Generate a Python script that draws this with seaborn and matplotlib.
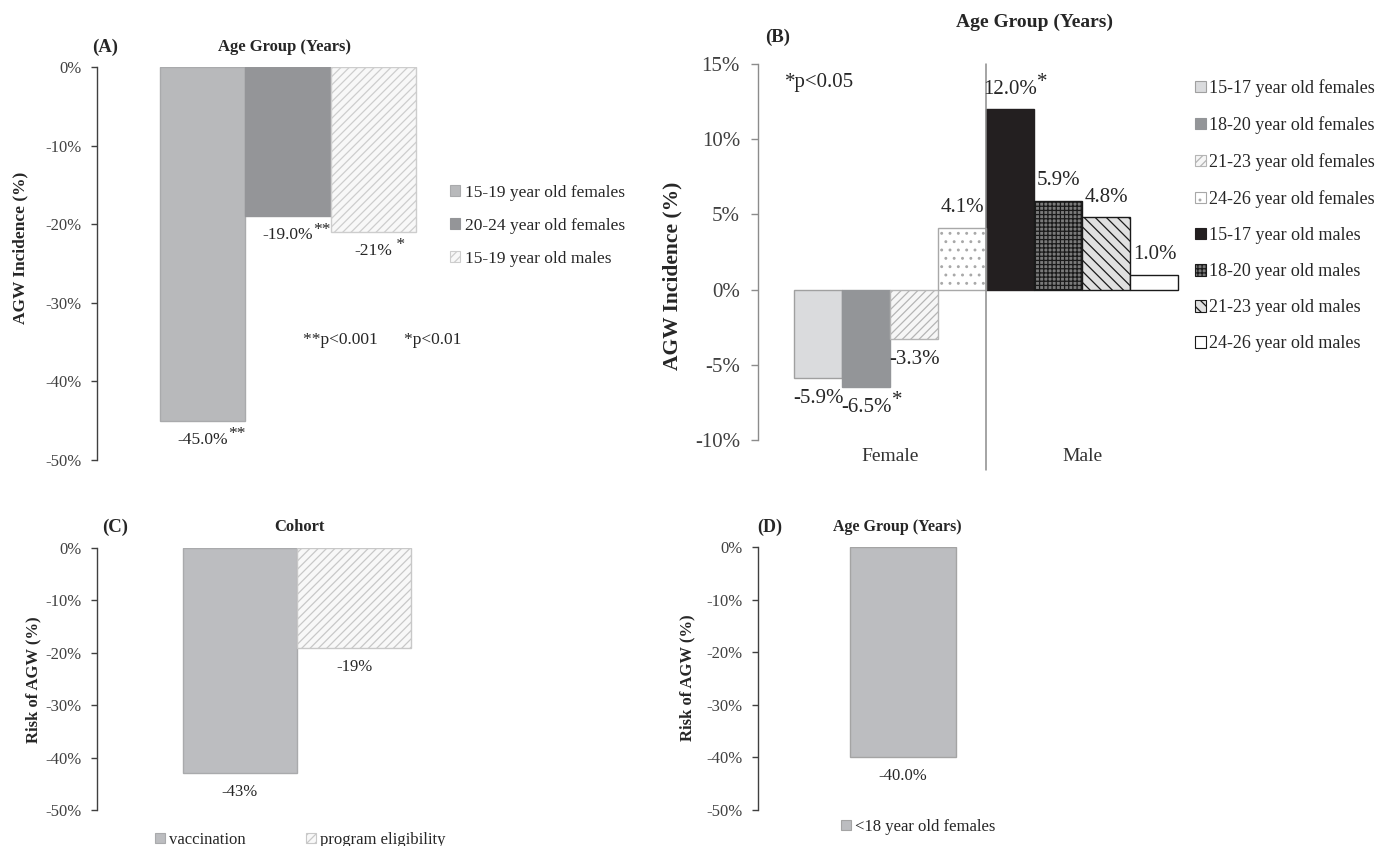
import pandas as pd
import numpy as np
import seaborn as sns
import matplotlib
matplotlib.use('Agg')
import matplotlib.pyplot as plt
from matplotlib.patches import Patch

# ---- data ----
# (A) AGW incidence change by age group
groups_a = ['15-19 year old females', '20-24 year old females', '15-19 year old males']
values_a = [-45.0, -19.0, -21.0]
labels_a = ['-45.0%', '-19.0%', '-21%']
stars_a = ['**', '**', ' *']

# (B) AGW incidence change, female / male
sex_b = ['Female'] * 4 + ['Male'] * 4
ages_b = ['15-17', '18-20', '21-23', '24-26'] * 2
values_b = [-5.9, -6.5, -3.3, 4.1, 12.0, 5.9, 4.8, 1.0]
stars_b = ['', '*', '', '', '*', '', '', '']
legend_b = ['15-17 year old females', '18-20 year old females', '21-23 year old females',
            '24-26 year old females', '15-17 year old males', '18-20 year old males',
            '21-23 year old males', '24-26 year old males']

# (C) risk of AGW by cohort
cohort_c = ['vaccination', 'program eligibility']
values_c = [-43.0, -19.0]

# (D) risk of AGW, <18 females
groups_d = ['<18 year old females']
values_d = [-40.0]

ticks_neg = [0, -10, -20, -30, -40, -50]
ticks_b = [15, 10, 5, 0, -5, -10]

# ---- styles ----
sty_a = [dict(fc='#b8b9bb', ec='#a9aaac', hatch=None),
         dict(fc='#949598', ec='#949598', hatch=None),
         dict(fc='#f8f8f8', ec='#cdcdcd', hatch='////')]
sty_b = [dict(fc='#dadbdd', ec='#a0a0a0', hatch=None),
         dict(fc='#939598', ec='#939598', hatch=None),
         dict(fc='#f6f6f6', ec='#b5b5b5', hatch='////'),
         dict(fc='#ffffff', ec='#a8a8a8', hatch='..'),
         dict(fc='#231f20', ec='#231f20', hatch=None),
         dict(fc='#7a7a7a', ec='#1a1a1a', hatch='++++'),
         dict(fc='#e0e0e0', ec='#1a1a1a', hatch='\\\\\\'),
         dict(fc='#ffffff', ec='#1a1a1a', hatch=None)]
sty_c = [dict(fc='#bcbdc0', ec='#a9aaac', hatch=None),
         dict(fc='#f8f8f8', ec='#c8c8c8', hatch='////')]
sty_d = [dict(fc='#bcbdc0', ec='#a4a4a4', hatch=None)]

sns.set_theme(style='white')
plt.rcParams['font.family'] = ['Liberation Serif', 'DejaVu Serif']
plt.rcParams['hatch.linewidth'] = 0.9
TXT = '#262626'

W, H = 1375, 846
fig = plt.figure(figsize=(W / 100, H / 100), dpi=100)


def fx(x):
    return x / W


def fy(y):
    return 1 - y / H


def axes_px(l, t, r, b):
    return fig.add_axes([l / W, 1 - b / H, (r - l) / W, (b - t) / H])


def paint(bar, st):
    bar.set_facecolor(st['fc'])
    bar.set_edgecolor(st['ec'])
    bar.set_linewidth(1.0)
    if st['hatch']:
        bar.set_hatch(st['hatch'])


def handle(st):
    return Patch(facecolor=st['fc'], edgecolor=st['ec'], hatch=st['hatch'], linewidth=0.8)


def style_axis(ax, ticks, col, size, tlen=4, pad=7):
    sns.despine(ax=ax, top=True, right=True, bottom=True)
    ax.spines['left'].set_color(col)
    ax.spines['left'].set_linewidth(1.0)
    ax.set_yticks(ticks)
    ax.set_yticklabels([f'{t:.0f}%' for t in ticks])
    ax.tick_params(axis='y', direction='out', length=tlen, width=1, color=col,
                   labelsize=size, labelcolor='#404040', pad=pad, left=True)
    ax.set_xlabel('')
    ax.set_ylabel('')
    ax.grid(False)


def put_label(ax, bar, text, star, size, off):
    x = bar.get_x() + bar.get_width() / 2
    v = bar.get_y() + bar.get_height()
    dy = off if v > 0 else -off
    t = ax.annotate(text, (x, v), xytext=(0, dy), textcoords='offset pixels',
                    ha='center', va='center', fontsize=size, color=TXT)
    if star:
        ax.annotate(star, xy=(1.0, 0.85), xycoords=t, ha='left', va='center',
                    fontsize=size, color=TXT)


# ---------------- (A) ----------------
axA = axes_px(97, 67, 440, 460)
dfA = pd.DataFrame({'g': ['all'] * 3, 'grp': groups_a, 'val': values_a})
sns.barplot(data=dfA, x='g', y='val', hue='grp', hue_order=groups_a, width=0.8,
            errorbar=None, legend=False, saturation=1, ax=axA)
for cont, st in zip(axA.containers, sty_a):
    for bar in cont:
        paint(bar, st)
axA.set_ylim(-50, 0)
axA.set_xlim(-0.597, 0.475)
axA.set_xticks([])
style_axis(axA, ticks_neg, '#404040', 12)
for cont, lab, s in zip(axA.containers, labels_a, stars_a):
    put_label(axA, cont[0], lab, s, 12.5, 19)
fig.text(fx(105), fy(47), '(A)', ha='center', va='center', fontsize=13.5, fontweight='bold', color=TXT)
fig.text(fx(285), fy(47), 'Age Group (Years)', ha='center', va='center', fontsize=12, fontweight='bold', color=TXT)
fig.text(fx(20), fy(248), 'AGW Incidence (%)', rotation=90, ha='center', va='center',
         fontsize=12.5, fontweight='bold', color=TXT)
fig.text(fx(303), fy(340), '**p<0.001      *p<0.01', ha='left', va='center', fontsize=12.5, color=TXT)
fig.legend([handle(s) for s in sty_a], groups_a, loc='upper left', bbox_to_anchor=(fx(450), fy(185)),
           frameon=False, fontsize=12.5, handlelength=0.6, handleheight=0.6, handletextpad=0.25,
           labelspacing=0.98, borderpad=0, borderaxespad=0, labelcolor=TXT)

# ---------------- (B) ----------------
axB = axes_px(758, 64, 1190, 440)
dfB = pd.DataFrame({'sex': sex_b, 'age': ages_b, 'val': values_b})
age_order = ['15-17', '18-20', '21-23', '24-26']
sns.barplot(data=dfB, x='sex', y='val', hue='age', hue_order=age_order, order=['Female', 'Male'],
            width=1.0, errorbar=None, legend=False, saturation=1, ax=axB)
for i, cont in enumerate(axB.containers):
    for j, bar in enumerate(cont):
        k = j * 4 + i
        paint(bar, sty_b[k])
        put_label(axB, bar, f'{values_b[k]:.1f}%', stars_b[k], 15, 20)
axB.set_ylim(-10, 15)
axB.set_xlim(-0.69, 1.56)
style_axis(axB, ticks_b, '#8c8c8c', 15, tlen=5, pad=8)
axB.tick_params(axis='x', length=0, labelsize=14, labelcolor='#333333', pad=6)
axB.axvline(0.5, ymin=-0.08, ymax=1.0, color='#8c8c8c', lw=1.1, clip_on=False)
fig.text(fx(778), fy(37), '(B)', ha='center', va='center', fontsize=13.5, fontweight='bold', color=TXT)
fig.text(fx(1035), fy(22), 'Age Group (Years)', ha='center', va='center', fontsize=14, fontweight='bold', color=TXT)
fig.text(fx(672), fy(276), 'AGW Incidence (%)', rotation=90, ha='center', va='center',
         fontsize=15.5, fontweight='bold', color=TXT)
fig.text(fx(785), fy(83), '*p<0.05', ha='left', va='center', fontsize=15, color=TXT)
fig.legend([handle(s) for s in sty_b], legend_b, loc='upper left', bbox_to_anchor=(fx(1195), fy(79)),
           frameon=False, fontsize=13, handlelength=0.6, handleheight=0.6, handletextpad=0.2,
           labelspacing=1.06, borderpad=0, borderaxespad=0, labelcolor=TXT)

# ---------------- (C) ----------------
axC = axes_px(97, 548, 440, 810)
dfC = pd.DataFrame({'g': ['all'] * 2, 'coh': cohort_c, 'val': values_c})
sns.barplot(data=dfC, x='g', y='val', hue='coh', hue_order=cohort_c, width=0.8,
            errorbar=None, legend=False, saturation=1, ax=axC)
for cont, st in zip(axC.containers, sty_c):
    for bar in cont:
        paint(bar, st)
        put_label(axC, bar, f'{bar.get_height():.0f}%', '', 12, 19)
axC.set_ylim(-50, 0)
axC.set_xlim(-0.70, 0.50)
axC.set_xticks([])
style_axis(axC, ticks_neg, '#404040', 12)
fig.text(fx(115), fy(527), '(C)', ha='center', va='center', fontsize=13.5, fontweight='bold', color=TXT)
fig.text(fx(299), fy(527), 'Cohort', ha='center', va='center', fontsize=12, fontweight='bold', color=TXT)
fig.text(fx(33), fy(680), 'Risk of AGW (%)', rotation=90, ha='center', va='center',
         fontsize=12, fontweight='bold', color=TXT)
fig.legend([handle(s) for s in sty_c], cohort_c, loc='upper left', bbox_to_anchor=(fx(155), fy(832)),
           ncol=2, frameon=False, fontsize=12, handlelength=0.6, handleheight=0.6, handletextpad=0.25,
           columnspacing=3.6, borderpad=0, borderaxespad=0, labelcolor=TXT)

# ---------------- (D) ----------------
axD = axes_px(758, 547, 1000, 810)
dfD = pd.DataFrame({'grp': groups_d, 'val': values_d})
sns.barplot(data=dfD, x='grp', y='val', width=0.8, errorbar=None, saturation=1, ax=axD)
for cont, st in zip(axD.containers, sty_d):
    for bar in cont:
        paint(bar, st)
        put_label(axD, bar, f'{bar.get_height():.1f}%', '', 12, 19)
axD.set_ylim(-50, 0)
axD.set_xlim(-1.094, 0.73)
axD.set_xticks([])
style_axis(axD, ticks_neg, '#404040', 12)
fig.text(fx(770), fy(527), '(D)', ha='center', va='center', fontsize=13, fontweight='bold', color=TXT)
fig.text(fx(897), fy(527), 'Age Group (Years)', ha='center', va='center', fontsize=11.5, fontweight='bold', color=TXT)
fig.text(fx(687), fy(678), 'Risk of AGW (%)', rotation=90, ha='center', va='center',
         fontsize=12, fontweight='bold', color=TXT)
fig.legend([handle(s) for s in sty_d], groups_d, loc='upper left', bbox_to_anchor=(fx(841), fy(819)),
           frameon=False, fontsize=12, handlelength=0.6, handleheight=0.6, handletextpad=0.25,
           borderpad=0, borderaxespad=0, labelcolor=TXT)

fig.savefig('out.png', dpi=100)
